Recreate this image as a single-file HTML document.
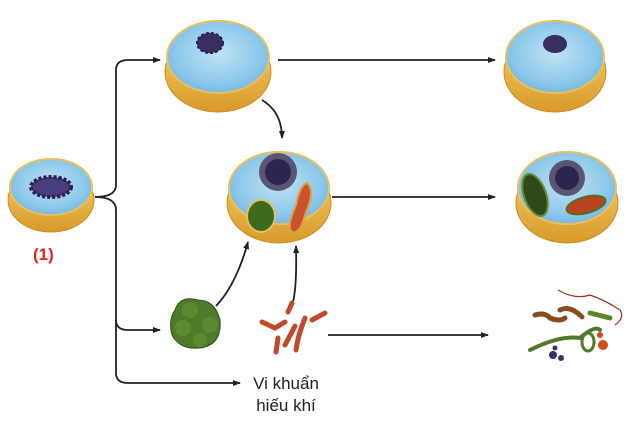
<html><body style="margin:0;background:#fff">
<svg width="642" height="425" viewBox="0 0 642 425" xmlns="http://www.w3.org/2000/svg">
<defs>
<marker id="a" markerWidth="8" markerHeight="8" refX="7" refY="4" orient="auto" markerUnits="userSpaceOnUse"><path d="M0,1 L8,4 L0,7 Z" fill="#222"/></marker>
<radialGradient id="b" cx="50%" cy="45%" r="60%"><stop offset="0" stop-color="#bfe3f5"/><stop offset="0.7" stop-color="#8cc8ea"/><stop offset="1" stop-color="#6fb3df"/></radialGradient>
<linearGradient id="g" x1="0" y1="0" x2="0" y2="1"><stop offset="0" stop-color="#f3d36a"/><stop offset="1" stop-color="#d99a2a"/></linearGradient>
</defs>
<g fill="none" stroke="#222" stroke-width="1.8">
<path d="M95,197 Q116,197 116,185 L116,70 Q116,60 128,60 L160,60" marker-end="url(#a)"/>
<path d="M95,197 Q116,197 116,210 L116,320 Q116,330 128,330 L160,330" marker-end="url(#a)"/>
<path d="M116,320 L116,373 Q116,383 128,383 L240,383" marker-end="url(#a)"/>
<path d="M278,60 L495,60" marker-end="url(#a)"/>
<path d="M332,197 L495,197" marker-end="url(#a)"/>
<path d="M328,335 L488,335" marker-end="url(#a)"/>
<path d="M262,100 Q282,112 282,138" marker-end="url(#a)"/>
<path d="M216,306 Q236,285 248,242" marker-end="url(#a)"/>
<path d="M293,302 Q297,285 296,246" marker-end="url(#a)"/>
</g>
<g>
<ellipse cx="51" cy="200" rx="43" ry="32" fill="url(#g)" stroke="#c98d20"/>
<ellipse cx="51" cy="187" rx="41" ry="28" fill="url(#b)" stroke="#e8c060" stroke-width="2"/>
<ellipse cx="51" cy="187" rx="20" ry="10" fill="#4a3d80" stroke="#2a2050" stroke-width="4" stroke-dasharray="3 2"/>
<ellipse cx="218" cy="72" rx="53" ry="40" fill="url(#g)" stroke="#c98d20"/>
<ellipse cx="218" cy="57" rx="51" ry="36" fill="url(#b)" stroke="#e8c060" stroke-width="2"/>
<ellipse cx="210" cy="43" rx="13" ry="10" fill="#3a2d60" stroke="#2a2050" stroke-width="2" stroke-dasharray="3 2"/>
<ellipse cx="555" cy="72" rx="51" ry="40" fill="url(#g)" stroke="#c98d20"/>
<ellipse cx="555" cy="57" rx="49" ry="36" fill="url(#b)" stroke="#e8c060" stroke-width="2"/>
<ellipse cx="555" cy="44" rx="12" ry="9" fill="#3a2d60"/>
<ellipse cx="279" cy="203" rx="52" ry="40" fill="url(#g)" stroke="#c98d20"/>
<ellipse cx="279" cy="188" rx="50" ry="36" fill="url(#b)" stroke="#e8c060" stroke-width="2"/>
<circle cx="278" cy="172" r="19" fill="#5a5570"/>
<circle cx="278" cy="172" r="13" fill="#2e2450"/>
<ellipse cx="261" cy="216" rx="14" ry="16" fill="#3f6a1e" stroke="#e0c060" stroke-width="2"/>
<path d="M307,183 Q316,190 305,215 Q300,235 292,232 Q286,228 296,205 Q300,185 307,183 Z" fill="#c9532c" stroke="#e0a040" stroke-width="2"/>
<ellipse cx="567" cy="203" rx="51" ry="40" fill="url(#g)" stroke="#c98d20"/>
<ellipse cx="567" cy="188" rx="49" ry="36" fill="url(#b)" stroke="#e8c060" stroke-width="2"/>
<circle cx="567" cy="178" r="18" fill="#5a5570"/><circle cx="567" cy="178" r="12" fill="#2e2450"/>
<ellipse cx="535" cy="195" rx="11" ry="22" transform="rotate(-20 535 195)" fill="#2e4a18" stroke="#6a8a30" stroke-width="2"/>
<ellipse cx="586" cy="205" rx="20" ry="8" transform="rotate(-15 586 205)" fill="#b8451f" stroke="#5a6a20" stroke-width="2"/>
</g>
<path d="M175,310 Q180,295 198,300 Q215,300 220,320 Q222,345 200,348 Q180,350 172,335 Q168,320 175,310 Z" fill="#4f7a2a" stroke="#2f4f18"/>
<circle cx="190" cy="310" r="8" fill="#5c8a30"/><circle cx="183" cy="328" r="8" fill="#5c8a30"/><circle cx="210" cy="325" r="8" fill="#5c8a30"/><circle cx="200" cy="340" r="7" fill="#5c8a30"/>
<g stroke="#c24a2c" stroke-width="5" stroke-linecap="round" fill="none">
<path d="M262,322 L275,328 L285,322"/><path d="M288,312 L292,303"/><path d="M295,326 L285,345"/>
<path d="M305,318 Q298,335 296,350"/><path d="M312,320 L325,313"/><path d="M278,338 L276,352"/>
</g>
<path d="M558,290 Q575,300 590,295 Q605,300 620,310 Q625,318 615,325" stroke="#a0301a" fill="none" stroke-width="1.2"/>
<g stroke-linecap="round" fill="none">
<path d="M535,315 Q545,312 550,318 Q560,322 565,318" stroke="#8a4a20" stroke-width="5"/>
<path d="M560,310 Q570,305 582,317" stroke="#8a4a20" stroke-width="5"/>
<path d="M590,313 L610,318" stroke="#5a8a28" stroke-width="5"/>
<path d="M530,350 Q560,335 580,338 Q595,325 600,330" stroke="#4f7a2a" stroke-width="4"/>
<ellipse cx="588" cy="342" rx="6" ry="9" stroke="#4f7a2a" stroke-width="3"/>
</g>
<circle cx="603" cy="345" r="5" fill="#d24a1a"/><circle cx="600" cy="335" r="3" fill="#d24a1a"/>
<circle cx="553" cy="355" r="4" fill="#3a2d70"/><circle cx="561" cy="358" r="3" fill="#3a2d70"/><circle cx="555" cy="348" r="2.5" fill="#3a2d70"/>
<text x="33" y="260" font-family="Liberation Sans, sans-serif" font-size="17" font-weight="bold" fill="#e8221e">(1)</text>
<text x="286" y="389" text-anchor="middle" font-family="Liberation Sans, 'DejaVu Sans', sans-serif" font-size="17" fill="#222">Vi khuẩn</text>
<text x="286" y="411" text-anchor="middle" font-family="Liberation Sans, 'DejaVu Sans', sans-serif" font-size="17" fill="#222">hiếu khí</text>
</svg>
</body></html>
